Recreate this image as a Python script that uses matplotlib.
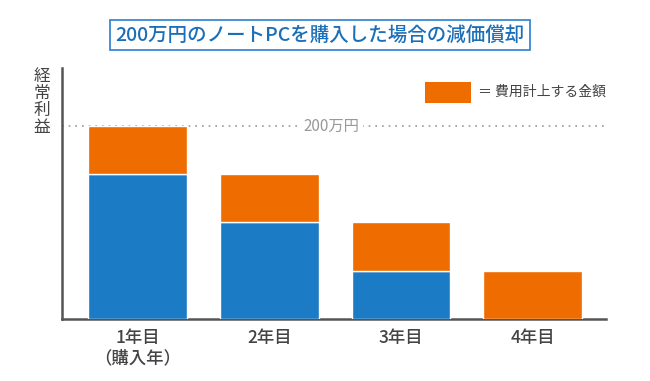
import matplotlib
matplotlib.use("Agg")
import matplotlib.pyplot as plt
from matplotlib.patches import Rectangle

plt.rcParams['font.family'] = ['Noto Sans CJK JP', 'DejaVu Sans']

categories = ["1年目\n（購入年）", "2年目", "3年目", "4年目"]
book_value = [150, 100, 50, 0]      # blue part
expense = [50, 50, 50, 50]          # orange part (費用計上する金額)
purchase_price = 200

BLUE = "#1b7bc4"
ORANGE = "#ee6c00"
TEXT = "#444444"

fig = plt.figure(figsize=(6.5, 3.81), dpi=100)
ax = fig.add_axes([62/650, (381-319)/381, (606-62)/650, (319-68)/381])

x = list(range(len(categories)))
w = 0.75
ax.bar(x, book_value, width=w, color=BLUE, edgecolor="white", linewidth=1.0, zorder=3)
ax.bar(x, expense, width=w, bottom=book_value, color=ORANGE, edgecolor="white", linewidth=1.0, zorder=3)

ax.set_xlim(-0.573, 3.557)
ax.set_ylim(0, 260)

ax.axhline(purchase_price, color="#999999", linestyle=(0, (1, 3)), linewidth=1.2, zorder=1)
ax.text(1.47, purchase_price, "200万円", ha="center", va="center", color="#999999",
        fontsize=11, bbox=dict(facecolor="white", edgecolor="none", pad=3), zorder=2)

for s in ["top", "right"]:
    ax.spines[s].set_visible(False)
for s in ["left", "bottom"]:
    ax.spines[s].set_color("#555555")
    ax.spines[s].set_linewidth(1.8)
ax.set_yticks([])
ax.set_xticks(x)
ax.set_xticklabels(categories, fontsize=12.5, color=TEXT, fontweight="medium", linespacing=1.2)
ax.tick_params(axis="x", length=0, pad=7)

# y label (vertical stacked)
fig.text(42/650, 1 - 102/381, "経\n常\n利\n益", ha="center", va="center", fontsize=12,
         color=TEXT, linespacing=1.0)

# legend
fig.patches.append(Rectangle((425/650, 1 - 103/381), 46/650, 21/381, transform=fig.transFigure,
                             facecolor=ORANGE, edgecolor="none"))
fig.text(478/650, 1 - 92/381, "＝ 費用計上する金額", ha="left", va="center", fontsize=10, color=TEXT)

# title box
fig.text(320/650, 1 - 35/381, "200万円のノートPCを購入した場合の減価償却", ha="center", va="center",
         fontsize=14, color="#1b6fb8", fontweight="medium",
         bbox=dict(facecolor="white", edgecolor="#2a7fcf", linewidth=1.2, boxstyle="square,pad=0.3"))

fig.savefig("out.png", dpi=100)
